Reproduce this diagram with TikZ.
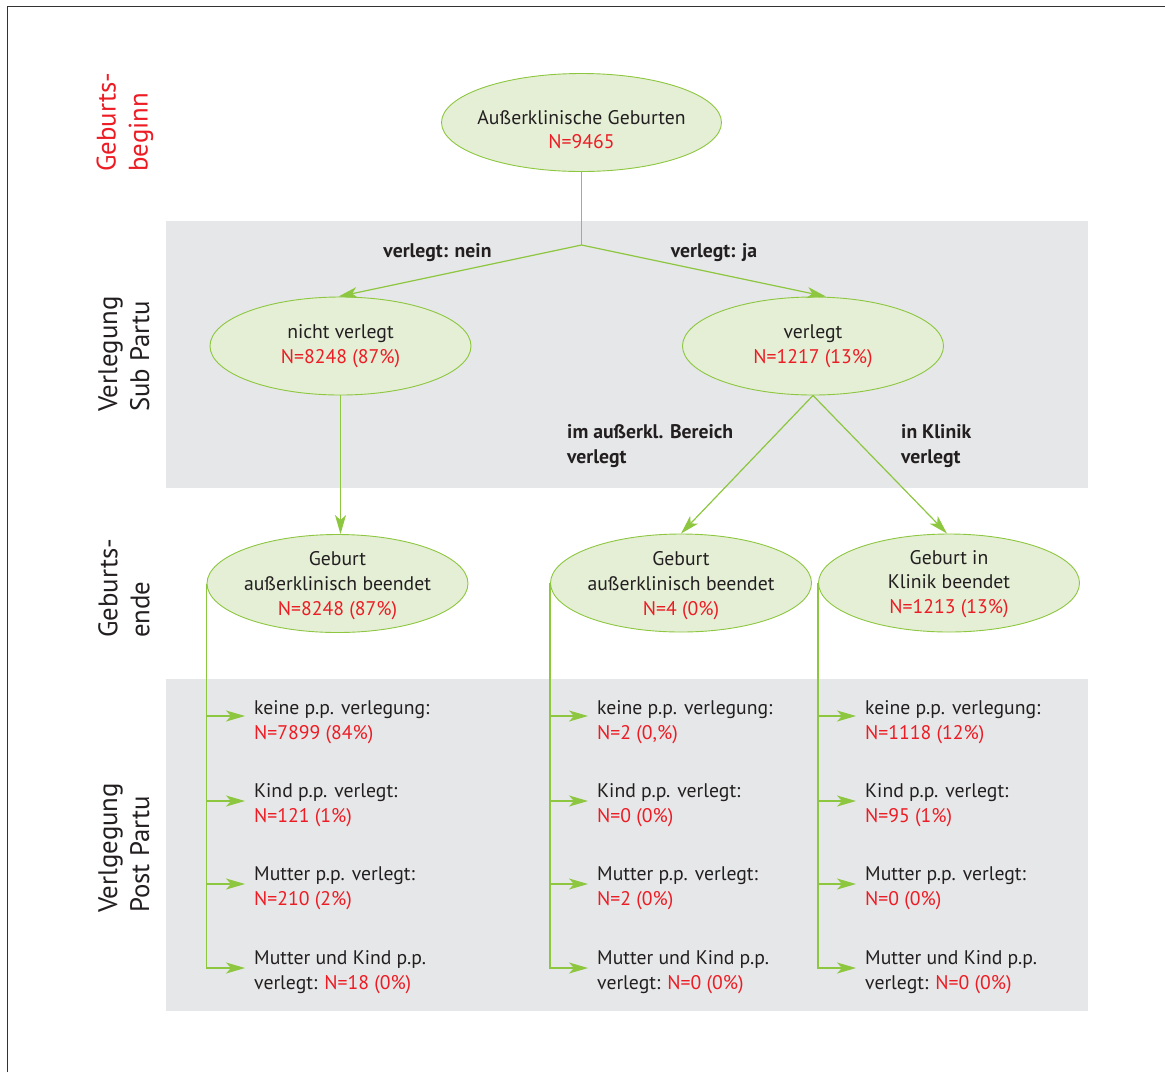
\documentclass[tikz,border=0pt]{standalone}
\usepackage{fontspec}
\setmainfont{PT Sans}
\usetikzlibrary{shapes.geometric,arrows.meta}
\definecolor{grn}{HTML}{8DC63F}
\definecolor{ellfill}{HTML}{E4EFD6}
\definecolor{band}{HTML}{E6E7E8}
\definecolor{rd}{HTML}{ED1C24}
\definecolor{txt}{HTML}{231F20}
\begin{document}
\begin{tikzpicture}[x=1pt,y=-1pt,
  mainfont/.style={font=\fontsize{19.7}{24.8}\selectfont},
  mainfont, text=txt,
  ell/.style={ellipse, draw=grn, fill=ellfill, line width=0.9pt, minimum width=261pt, minimum height=98pt, inner sep=0pt},
  lbl/.style={align=center, inner sep=0pt},
  bf/.style={font=\fontsize{19.7}{24.8}\selectfont\bfseries},
  side/.style={rotate=90, anchor=west, align=left, inner sep=0pt, font=\fontsize{26.8}{32}\selectfont},
  conn/.style={draw=grn, line width=1.2pt},
  arr/.style={conn, -{Stealth[length=19pt,width=11pt,inset=5pt]}},
  post/.style={anchor=west, align=left, inner sep=0pt}
]
\useasboundingbox (0,0) rectangle (1165,1072);
% background bands and frame
\fill[band] (166,221) rectangle (1088,488);
\fill[band] (166,679) rectangle (1088,1011);
\draw[line width=1.3pt, draw=black!80] (7.5,1072) -- (7.5,6.5) -- (1165,6.5);

% side labels
\node[side, text=rd] (s1) at (125,172) {Geburts-\\beginn};
\node[side] (s2) at (124,412) {Verlegung\\Sub Partu};
\node[side] (s3) at (124,638) {Geburts-\\ende};
\node[side] (s4) at (124,913) {Verlgegung\\Post Partu};

% ellipses
\node[ell, minimum width=280pt] (a) at (581.5,122.5) {};
\node[ell] (nv) at (340.5,346) {};
\node[ell] (v) at (813,346) {};
\node[ell] (c1) at (337.5,583.5) {};
\node[ell] (c2) at (681,583) {};
\node[ell] (c3) at (949,583) {};

% ellipse texts
\node[lbl] (at) at (581.5,129.5) {Außerklinische Geburten\\\textcolor{rd}{N=9465}};
\node[lbl] (nvt) at (340.5,346.5) {nicht verlegt\\\textcolor{rd}{N=8248 (87\%)}};
\node[lbl] (vt) at (813,346.5) {verlegt\\\textcolor{rd}{N=1217 (13\%)}};
\node[lbl] (c1t) at (337.5,585.5) {Geburt\\außerklinisch beendet\\\textcolor{rd}{N=8248 (87\%)}};
\node[lbl] (c2t) at (681,585.5) {Geburt\\außerklinisch beendet\\\textcolor{rd}{N=4 (0\%)}};
\node[lbl] (c3t) at (949,584) {Geburt in\\Klinik beendet\\\textcolor{rd}{N=1213 (13\%)}};

% edge labels
\node[lbl, bf] (ln) at (437.5,253) {verlegt: nein};
\node[lbl, bf] (lj) at (714,253) {verlegt: ja};
\node[lbl, bf, anchor=west, align=left] (lb) at (567,446) {im außerkl. Bereich\\verlegt};
\node[lbl, bf, anchor=west, align=left] (lk) at (901,446) {in Klinik\\verlegt};

% connectors upper part
\coordinate (br) at (581.5,245);
\draw[conn] (a.south) -- (br);
\draw[arr] (br) -- ([xshift=-2pt]nv.north);
\draw[arr] (br) -- ([xshift=13pt]v.north);
\draw[arr] (nv.south) -- (nv.south |- c1.north);
\draw[arr] (v.south) -- (c2.north);
\draw[arr] (v.south) -- ([xshift=-2pt]c3.north);

% post partum texts
\node[post] (p11) at (254,722.5) {keine p.p. verlegung:\\\textcolor{rd}{N=7899 (84\%)}};
\node[post] (p12) at (254,805.5) {Kind p.p. verlegt:\\\textcolor{rd}{N=121 (1\%)}};
\node[post] (p13) at (254,888.5) {Mutter p.p. verlegt:\\\textcolor{rd}{N=210 (2\%)}};
\node[post] (p14) at (254,972) {Mutter und Kind p.p.\\verlegt: \textcolor{rd}{N=18 (0\%)}};

\node[post] (p21) at (597,722.5) {keine p.p. verlegung:\\\textcolor{rd}{N=2 (0,\%)}};
\node[post] (p22) at (597,805.5) {Kind p.p. verlegt:\\\textcolor{rd}{N=0 (0\%)}};
\node[post] (p23) at (597,888.5) {Mutter p.p. verlegt:\\\textcolor{rd}{N=2 (0\%)}};
\node[post] (p24) at (597,972) {Mutter und Kind p.p.\\verlegt: \textcolor{rd}{N=0 (0\%)}};

\node[post] (p31) at (865,722.5) {keine p.p. verlegung:\\\textcolor{rd}{N=1118 (12\%)}};
\node[post] (p32) at (865,805.5) {Kind p.p. verlegt:\\\textcolor{rd}{N=95 (1\%)}};
\node[post] (p33) at (865,888.5) {Mutter p.p. verlegt:\\\textcolor{rd}{N=0 (0\%)}};
\node[post] (p34) at (865,972) {Mutter und Kind p.p.\\verlegt: \textcolor{rd}{N=0 (0\%)}};

% post partum connectors
\foreach \c in {1,2,3}{
  \foreach \r/\ys in {1/6.5,2/4.5,3/4.5,4/4}{
    \draw[arr] (c\c.west) |- ([xshift=-9pt,yshift=\ys pt]p\c\r.west);
  }
}
\end{tikzpicture}
\end{document}
